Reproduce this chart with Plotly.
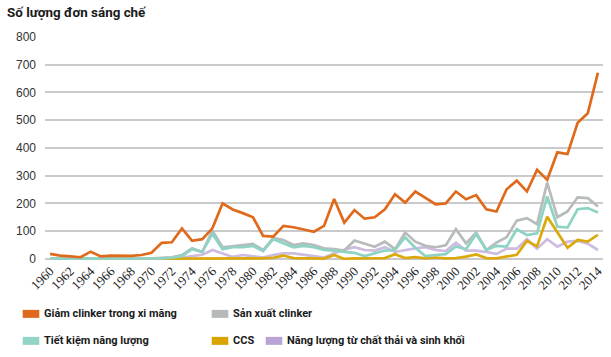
import plotly.graph_objects as go

years = list(range(1960, 2015))

giam_clinker = [18, 12, 9, 6, 26, 9, 12, 11, 11, 14,
                22, 58, 60, 110, 65, 71, 110, 200, 178, 165,
                150, 83, 80, 119, 114, 106, 98, 119, 216, 131,
                176, 145, 150, 179, 233, 203, 243, 220, 197, 200,
                243, 215, 230, 179, 171, 251, 282, 243, 321, 285,
                384, 378, 491, 525, 671]

san_xuat_clinker = [2, 2, 1, 1, 2, 1, 2, 2, 1, 2,
                    2, 4, 6, 14, 38, 25, 102, 42, 47, 50,
                    54, 32, 75, 68, 50, 56, 50, 38, 35, 30,
                    66, 56, 44, 62, 35, 95, 62, 47, 42, 49,
                    107, 56, 95, 32, 59, 78, 138, 147, 125, 275,
                    150, 171, 222, 219, 189]

tiet_kiem = [1, 1, 1, 1, 1, 1, 1, 1, 1, 1,
             1, 2, 4, 10, 35, 25, 90, 35, 42, 42,
             47, 28, 71, 56, 42, 47, 42, 32, 30, 25,
             22, 10, 20, 30, 32, 78, 40, 10, 14, 17,
             45, 35, 90, 32, 47, 44, 107, 86, 92, 225,
             116, 113, 179, 183, 167]

ccs = [0, 0, 0, 0, 0, 0, 0, 0, 0, 0,
       0, 0, 0, 0, 1, 2, 2, 2, 2, 1,
       2, 2, 4, 12, 3, 2, 2, 1, 14, 0,
       2, 2, 2, 3, 17, 3, 6, 2, 5, 2,
       3, 8, 16, 3, 2, 8, 15, 65, 45, 152,
       98, 40, 68, 62, 87]

chat_thai = [2, 2, 1, 2, 2, 1, 6, 3, 2, 2,
             2, 2, 2, 5, 10, 15, 32, 20, 7, 14,
             10, 5, 14, 20, 20, 15, 10, 5, 20, 33,
             42, 32, 30, 42, 25, 32, 38, 42, 32, 28,
             58, 30, 30, 25, 18, 37, 37, 71, 37, 71,
             44, 62, 65, 55, 32]

tick_years = list(range(1960, 2015, 2))
tick_labels = [str(y) for y in tick_years]
y_ticks = [0, 100, 200, 300, 400, 500, 600, 700, 800]

series = [
    ("Năng lượng từ chất thải và sinh khối", chat_thai, "#CDBBE0"),
    ("CCS", ccs, "#DCA90C"),
    ("Sản xuất clinker", san_xuat_clinker, "#B7BBBB"),
    ("Tiết kiệm năng lượng", tiet_kiem, "#8ED3C4"),
    ("Giảm clinker trong xi măng", giam_clinker, "#E06A1C"),
]

W, H = 611, 357
L, R = 45, 603
T, B = 37, 260.1

fig = go.Figure()
for name, vals, col in series:
    fig.add_trace(go.Scatter(x=years, y=vals, mode="lines", name=name,
                             line=dict(color=col, width=2.7), showlegend=False,
                             hoverinfo="x+y+name"))

def px_x(p):
    return (p - L) / (R - L)

def px_y(p):
    return (B - p) / (B - T)

legend_font = dict(family="Liberation Sans Narrow, Roboto, sans-serif",
                   size=11, color="#1a1a1a")
title_font = dict(family="Liberation Sans Narrow, Roboto, sans-serif",
                  size=13.4, color="#1a1a1a")
legend_items = [
    ("Giảm clinker trong xi măng", "#E06A1C", 22.7, 314),
    ("Sản xuất clinker", "#B5B9B9", 211.7, 314),
    ("Tiết kiệm năng lượng", "#92D4C6", 22.7, 341),
    ("CCS", "#D9A400", 211.7, 341),
    ("Năng lượng từ chất thải và sinh khối", "#B9A3D4", 265.7, 341),
]
shapes = []
annotations = []
for text, col, x0, yc in legend_items:
    shapes.append(dict(type="rect", xref="paper", yref="paper",
                       x0=px_x(x0), x1=px_x(x0 + 16.6),
                       y0=px_y(yc + 4), y1=px_y(yc - 4),
                       fillcolor=col, line=dict(width=0)))
    annotations.append(dict(xref="paper", yref="paper", x=px_x(x0 + 19.5), y=px_y(yc),
                            text="<b>" + text + "</b>", showarrow=False,
                            xanchor="left", yanchor="middle", font=legend_font))

annotations.append(dict(xref="paper", yref="paper", x=px_x(5), y=px_y(12),
                        text="<b>Số lượng đơn sáng chế</b>", showarrow=False,
                        xanchor="left", yanchor="middle", font=title_font))

fig.update_layout(
    width=W, height=H,
    margin=dict(l=L, r=W - R, t=T, b=H - B, pad=0),
    paper_bgcolor="white", plot_bgcolor="white",
    shapes=shapes, annotations=annotations,
    xaxis=dict(range=[1959.5, 2014.5], tickmode="array", tickvals=tick_years,
               ticktext=tick_labels, tickangle=-45, showgrid=False, zeroline=False,
               showline=False, ticks="", automargin=False,
               tickfont=dict(family="Liberation Serif, Times New Roman, serif", size=13,
                             color="#222222")),
    yaxis=dict(range=[-4, 800], tickmode="array", tickvals=y_ticks, showgrid=True,
               gridcolor="#CACACA", gridwidth=1.6, zeroline=False, showline=False,
               ticks="", ticklabelstandoff=8, automargin=False,
               tickfont=dict(family="Liberation Sans, Arial, sans-serif", size=12,
                             color="#333333")),
    showlegend=False,
)

fig.write_html("out.html", config={"displayModeBar": False},
               post_script="document.body.style.margin='0px';")
